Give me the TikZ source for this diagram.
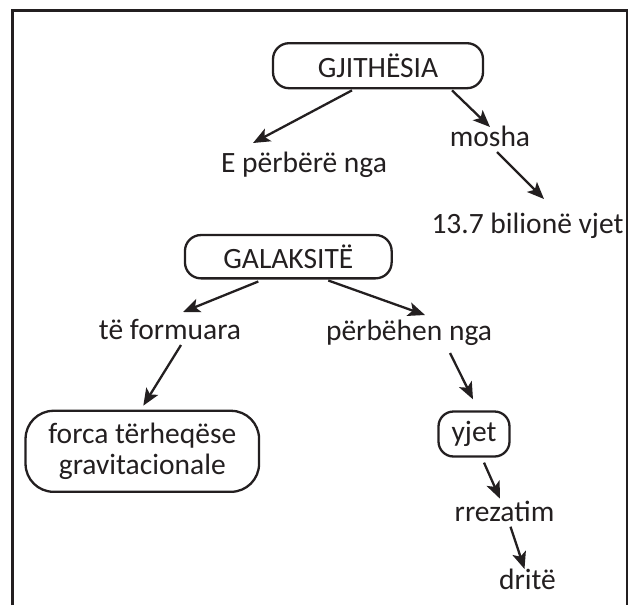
\documentclass[tikz,border=0pt]{standalone}
\usepackage{fontspec}
\setmainfont{Carlito}
\usetikzlibrary{arrows.meta}
\definecolor{ink}{RGB}{35,31,32}

\begin{document}
\begin{tikzpicture}[x=1pt,y=-1pt,>={Stealth[length=17pt,width=14pt,inset=4pt]},
                    line width=2.3pt,color=ink,font=\fontsize{29.5}{31}\selectfont,
                    box node/.style={draw,rounded corners=16pt,inner sep=0pt,align=center},
                    word node/.style={inner sep=0pt,anchor=base}]

  \useasboundingbox (0,0) rectangle (637,605);
  \draw[line width=2.6pt] (12.5,605) |- (627,10.5) -- (627,605);

  \node[box node,minimum width=210pt,minimum height=45pt] (gj) at (378,65.7) {GJITHËSIA};
  \node[word node] (epb) at (304,172) {E përbërë nga};
  \node[word node] (mosha) at (490,146) {mosha};
  \node[word node] (age) at (527.5,233) {13.7 bilionë vjet};

  \node[box node,minimum width=206.7pt,minimum height=43.3pt] (gal) at (288.3,256.7) {GALAKSITË};
  \node[word node] (tf) at (170,339) {të formuara};
  \node[word node] (pbn) at (409,340) {përbëhen nga};
  \node[box node,rounded corners=28pt,minimum width=233.5pt,minimum height=81pt] (force) at (142.3,451.3)
    {forca tërheqëse\\gravitacionale};
  \node[box node,rounded corners=15pt,minimum width=71pt,minimum height=45pt] (yjet) at (474,434) {yjet};
  \node[word node] (rr) at (504.5,521.7) {rrezatim};
  \node[word node] (dr) at (527.5,589) {dritë};

  \path[->]
    ([shift={(-26,1)}]gj.south) edge ([shift={(-51,-29)}]epb.base)
    ([shift={(74,1)}]gj.south) edge ([shift={(0,-19)}]mosha.base)
    ([shift={(7,6)}]mosha.base) edge ([shift={(16.5,-34)}]age.base)
    ([shift={(-30,2)}]gal.south) edge ([shift={(13,-27)}]tf.base)
    ([shift={(40,1)}]gal.south) edge ([shift={(16,-25)}]pbn.base)
    ([shift={(11,6)}]tf.base) edge ([shift={(1,-4)}]force.north)
    ([shift={(41,13)}]pbn.base) edge ([shift={(-1,-11)}]yjet.north)
    ([shift={(10,5)}]yjet.south) edge ([shift={(-4.5,-23)}]rr.base)
    ([shift={(6,5)}]rr.base) edge ([shift={(-3,-20)}]dr.base);
\end{tikzpicture}
\end{document}
